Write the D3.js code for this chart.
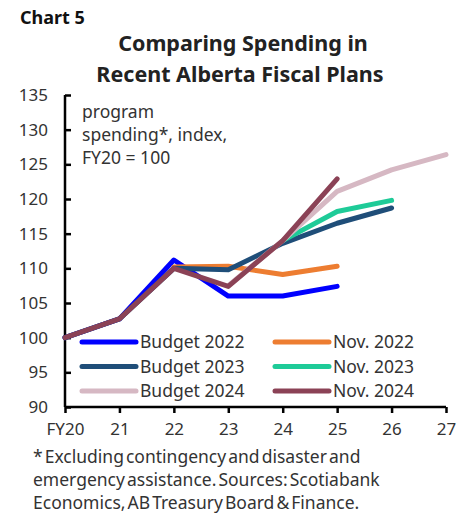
<!DOCTYPE html>
<html>
<head>
<meta charset="utf-8">
<script src="https://cdn.jsdelivr.net/npm/d3@7"></script>
<style>
body { margin:0; background:#fff; }
text { font-family: "Noto Sans", "Open Sans", sans-serif; fill:#222; }
</style>
</head>
<body>
<svg id="chart" width="474" height="514"></svg>
<script>
// categories on the x axis (fiscal years)
var years = ["FY20","21","22","23","24","25","26","27"];
var yTicks = [90,95,100,105,110,115,120,125,130,135];

// index values, FY20 = 100 (null = not in that plan)
var budget2022 = [100, 102.7, 111.2, 106.0, 106.0, 107.4, null, null];
var nov2022    = [null, null, 110.2, 110.3, 109.1, 110.3, null, null];
var budget2023 = [100, 102.7, 110.0, 109.8, 113.6, 116.5, 118.7, null];
var nov2023    = [null, null, null, null, 114.0, 118.2, 119.8, null];
var budget2024 = [null, null, null, 107.5, 114.0, 121.1, 124.2, 126.4];
var nov2024    = [100, 102.7, 110.0, 107.4, 114.0, 122.9, null, null];

var seriesNames = ["Budget 2022","Nov. 2022","Budget 2023","Nov. 2023","Budget 2024","Nov. 2024"];
var seriesColors = ["#0000ff","#ed7d31","#1f4e79","#1ecb98","#d6b8c3","#8b4256"];
var seriesData = [budget2022, nov2022, budget2023, nov2023, budget2024, nov2024];

var svg = d3.select("#chart");

var x = d3.scalePoint().domain(years).range([65, 446]);
var y = d3.scaleLinear().domain([90,135]).range([407, 95]);

// titles
svg.append("text").attr("x",20).attr("y",24)
  .style("font-size","18px").style("font-weight","bold").style("fill","#111")
  .text("Chart 5");
svg.append("text").attr("x",243).attr("y",51).attr("text-anchor","middle")
  .style("font-size","21.5px").style("font-weight","bold").style("fill","#222")
  .text("Comparing Spending in");
svg.append("text").attr("x",240).attr("y",82).attr("text-anchor","middle")
  .style("font-size","21.5px").style("font-weight","bold").style("fill","#222")
  .text("Recent Alberta Fiscal Plans");

// y axis
var yAxis = svg.append("g").attr("transform","translate(65,0)")
  .call(d3.axisLeft(y).tickValues(yTicks).tickSize(-6).tickPadding(17));
yAxis.select(".domain").attr("stroke","#000").attr("stroke-width",2.5)
  .attr("d","M0,"+y(90)+"V"+y(135));
yAxis.selectAll(".tick line").attr("stroke","#000").attr("stroke-width",2.5);
yAxis.selectAll(".tick text").style("font-size","17px").style("fill","#333")
  .attr("font-family",null);

// x axis
var xAxis = svg.append("g").attr("transform","translate(0,407)")
  .call(d3.axisBottom(x).tickSize(6).tickPadding(10));
xAxis.select(".domain").attr("stroke","#000").attr("stroke-width",2.5)
  .attr("d","M65,0H446");
xAxis.selectAll(".tick line").attr("stroke","#000").attr("stroke-width",2.5);
xAxis.selectAll(".tick text").style("font-size","17px").style("fill","#333")
  .attr("font-family",null);

// lines
var line = d3.line()
  .defined(function(d){ return d.v != null; })
  .x(function(d){ return x(d.k); })
  .y(function(d){ return y(d.v); });

seriesData.forEach(function(arr, i){
  var pts = arr.map(function(v, j){ return {k: years[j], v: v}; });
  svg.append("path").datum(pts)
    .attr("fill","none")
    .attr("stroke", seriesColors[i])
    .attr("stroke-width",5)
    .attr("stroke-linejoin","round")
    .attr("stroke-linecap","round")
    .attr("d", line);
});

// annotation
var note = ["program","spending*, index,","FY20 = 100"];
svg.append("g").selectAll("text").data(note).enter().append("text")
  .attr("x",82).attr("y",function(d,i){ return 118 + i*23; })
  .style("font-size","17.5px").style("fill","#333")
  .text(function(d){ return d; });

// legend
var leg = svg.append("g");
seriesNames.forEach(function(n, i){
  var col = i % 2, row = Math.floor(i/2);
  var lx = col == 0 ? 82 : 275;
  var ly = 342 + row*24.5;
  leg.append("line").attr("x1",lx).attr("x2",lx+54).attr("y1",ly).attr("y2",ly)
    .attr("stroke",seriesColors[i]).attr("stroke-width",5).attr("stroke-linecap","round");
  leg.append("text").attr("x",lx+58).attr("y",ly+6)
    .style("font-size","17.5px").style("fill","#333").text(n);
});

// footnote
var foot = ["* Excluding contingency and disaster and",
            "emergency assistance. Sources: Scotiabank",
            "Economics, AB Treasury Board & Finance."];
svg.append("g").selectAll("text").data(foot).enter().append("text")
  .attr("x",33).attr("y",function(d,i){ return 463 + i*23; })
  .style("font-size","17.5px").style("fill","#333").style("word-spacing","-2.5px")
  .text(function(d){ return d; });
</script>
</body>
</html>
